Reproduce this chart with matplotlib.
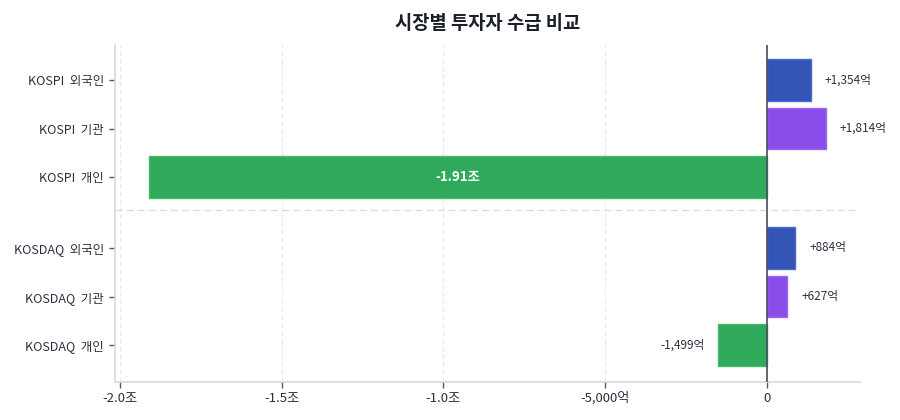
import matplotlib
matplotlib.use("Agg")
import matplotlib.pyplot as plt
from matplotlib.ticker import FixedLocator

plt.rcParams['font.family'] = ['Noto Sans CJK KR', 'DejaVu Sans']

labels = ["KOSPI  외국인", "KOSPI  기관", "KOSPI  개인",
          "KOSDAQ  외국인", "KOSDAQ  기관", "KOSDAQ  개인"]
values = [1354, 1814, -19100, 884, 627, -1499]  # 단위: 억
value_texts = ["+1,354억", "+1,814억", "-1.91조", "+884억", "+627억", "-1,499억"]
investor = ["외국인", "기관", "개인", "외국인", "기관", "개인"]
xticks = [-20000, -15000, -10000, -5000, 0]
xtick_labels = ["-2.0조", "-1.5조", "-1.0조", "-5,000억", "0"]

colors = {"외국인": "#3353b7", "기관": "#8a4fea", "개인": "#2eaa5a"}
edge = {"외국인": "#4a6ad0", "기관": "#9a66f0", "개인": "#45b86c"}

ypos = [0, 1, 2, 3.46, 4.46, 5.46]

fig = plt.figure(figsize=(9, 4.2), dpi=100)
ax = fig.add_axes([0.1278, 0.0905, 0.8278, 0.8024])

for y, v, inv in zip(ypos, values, investor):
    ax.barh(y, v, height=0.86, color=colors[inv], edgecolor=edge[inv], linewidth=1, zorder=3)

ax.set_xlim(-20150, 2880)
ax.set_ylim(6.22, -0.72)

ax.set_yticks(ypos)
ax.set_yticklabels(labels)
ax.xaxis.set_major_locator(FixedLocator(xticks))
ax.set_xticklabels(xtick_labels)

ax.tick_params(axis='y', length=4, width=1, color='#555a66', labelsize=9, labelcolor='#2b3140', pad=4)
ax.tick_params(axis='x', length=4, width=1, color='#555a66', labelsize=9.5, labelcolor='#2b3140', pad=3)

ax.grid(axis='x', color='#e6e8ec', linestyle=(0, (4, 3)), linewidth=0.8, zorder=0)
ax.axvline(0, color='#4a4f5c', linewidth=1.2, zorder=4)
ax.axhline(2.67, color='#d8dce3', linestyle=(0, (5, 3)), linewidth=1, zorder=2)

for s in ['top', 'right']:
    ax.spines[s].set_visible(False)
for s in ['left', 'bottom']:
    ax.spines[s].set_color('#d4d8e0')
    ax.spines[s].set_linewidth(1.2)

off = 430
for y, v, t in zip(ypos, values, value_texts):
    if v < -10000:
        ax.text(v / 2, y, t, ha='center', va='center', color='white',
                fontsize=9.5, fontweight='bold', zorder=5)
    elif v >= 0:
        ax.text(v + off, y, t, ha='left', va='center', color='#2b3140', fontsize=8.5, zorder=5)
    else:
        ax.text(v - off, y, t, ha='right', va='center', color='#2b3140', fontsize=8.5, zorder=5)

fig.text(0.5417, 0.945, "시장별 투자자 수급 비교", ha='center', va='center',
         fontsize=13.5, fontweight='bold', color='#1a1f2b')

fig.savefig("out.png", dpi=100, facecolor='white')
